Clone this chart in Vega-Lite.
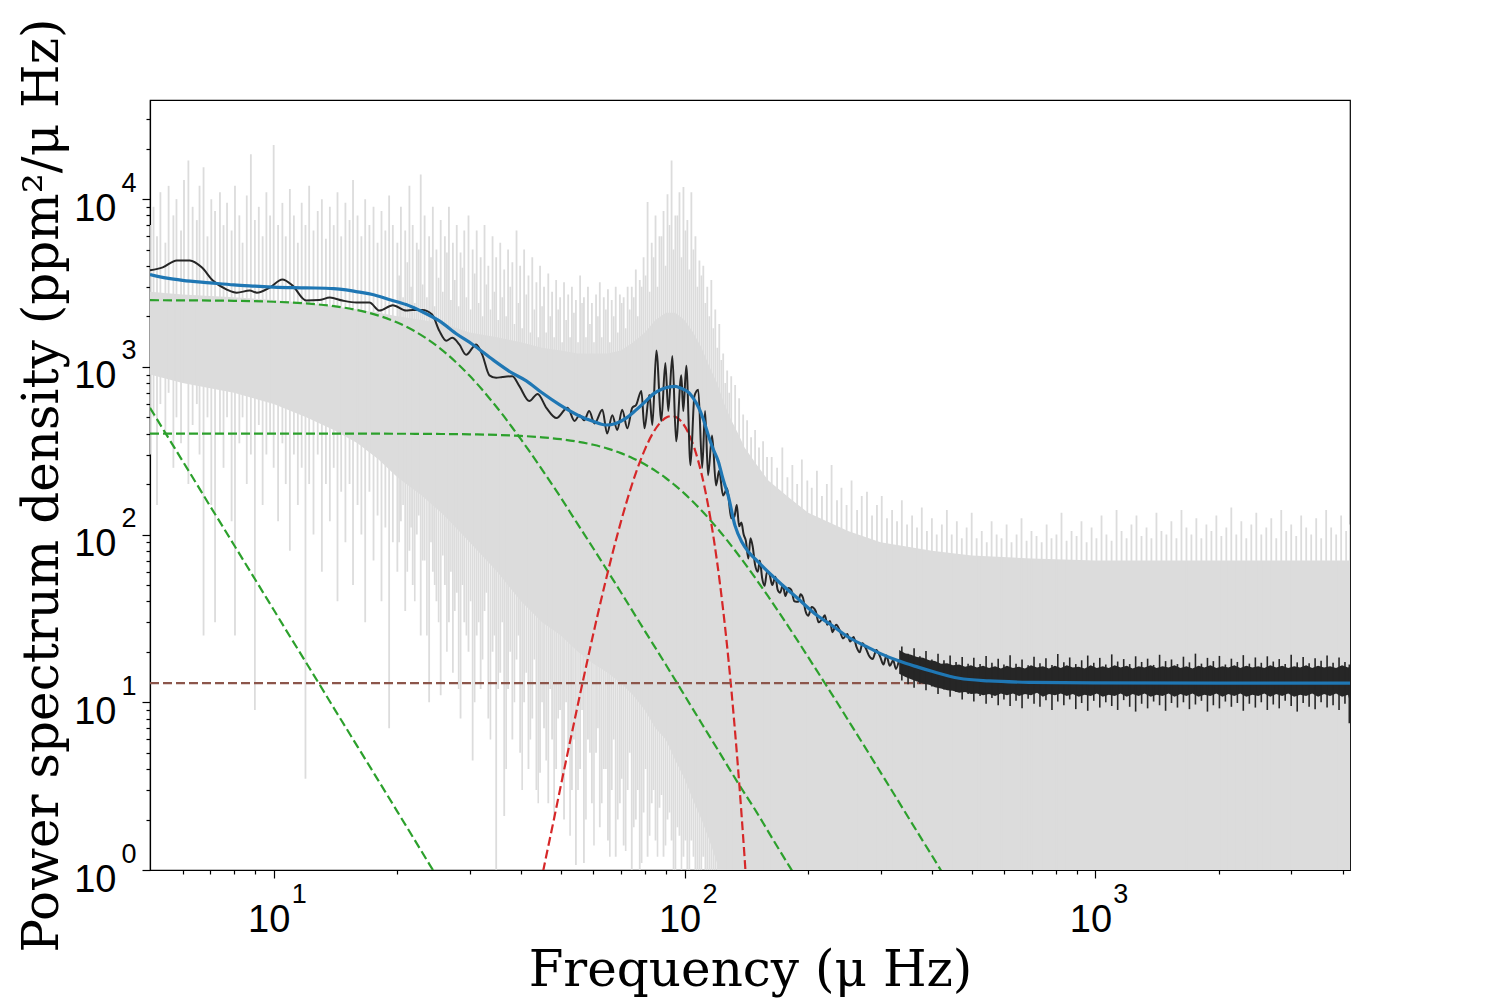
{
  "$schema": "https://vega.github.io/schema/vega-lite/v6.json",
  "width": 1200,
  "height": 770,
  "autosize": "none",
  "padding": {"left": 150, "top": 100, "right": 150, "bottom": 130},
  "background": "white",
  "config": {
    "view": {"stroke": "#000", "strokeWidth": 1.2},
    "axis": {
      "grid": false,
      "domainColor": "#000",
      "domainWidth": 1.2,
      "tickColor": "#000",
      "tickWidth": 1.2,
      "labelColor": "#000",
      "labelFont": "Liberation Sans",
      "labelFontSize": 38,
      "labelOverlap": false,
      "labelFlush": false,
      "titleFont": "DejaVu Serif",
      "titleFontSize": 50,
      "titleFontWeight": "normal",
      "titleColor": "#000",
      "titleBaseline": "alphabetic"
    }
  },
  "datasets": {
    "gray_body": [
      {"f": 5, "p": 2800, "p2": 900}, {"f": 6, "p": 2700, "p2": 800}, {"f": 8, "p": 2600, "p2": 700},
      {"f": 10, "p": 2500, "p2": 600}, {"f": 12, "p": 2400, "p2": 500}, {"f": 14, "p": 2300, "p2": 420},
      {"f": 16, "p": 2200, "p2": 350}, {"f": 18, "p": 2100, "p2": 280}, {"f": 20, "p": 2000, "p2": 220},
      {"f": 23, "p": 1900, "p2": 170}, {"f": 26, "p": 1800, "p2": 130}, {"f": 30, "p": 1600, "p2": 90},
      {"f": 35, "p": 1500, "p2": 60}, {"f": 40, "p": 1400, "p2": 40}, {"f": 45, "p": 1300, "p2": 30},
      {"f": 50, "p": 1250, "p2": 25}, {"f": 55, "p": 1200, "p2": 20}, {"f": 60, "p": 1200, "p2": 17},
      {"f": 65, "p": 1200, "p2": 15}, {"f": 70, "p": 1250, "p2": 13}, {"f": 75, "p": 1400, "p2": 11},
      {"f": 80, "p": 1600, "p2": 9}, {"f": 85, "p": 1900, "p2": 7}, {"f": 90, "p": 2100, "p2": 6},
      {"f": 95, "p": 2100, "p2": 4.5}, {"f": 100, "p": 1900, "p2": 3.5}, {"f": 105, "p": 1600, "p2": 2.6},
      {"f": 110, "p": 1300, "p2": 2}, {"f": 115, "p": 1000, "p2": 1.5}, {"f": 120, "p": 800, "p2": 1.1},
      {"f": 125, "p": 600, "p2": 0.5}, {"f": 130, "p": 480, "p2": 0.5}, {"f": 135, "p": 400, "p2": 0.5},
      {"f": 140, "p": 330, "p2": 0.5}, {"f": 150, "p": 260, "p2": 0.5}, {"f": 160, "p": 210, "p2": 0.5},
      {"f": 180, "p": 165, "p2": 0.5}, {"f": 200, "p": 135, "p2": 0.5}, {"f": 250, "p": 105, "p2": 0.5},
      {"f": 300, "p": 90, "p2": 0.5}, {"f": 400, "p": 80, "p2": 0.5}, {"f": 500, "p": 75, "p2": 0.5},
      {"f": 700, "p": 72, "p2": 0.5}, {"f": 1000, "p": 70, "p2": 0.5}, {"f": 4166, "p": 70, "p2": 0.5}
    ],
    "gray_spikes_low": [
      {"f": 5.0, "p": 7000, "p2": 300}, {"f": 5.1, "p": 9000, "p2": 500}, {"f": 5.2, "p": 6000, "p2": 150},
      {"f": 5.3, "p": 11000, "p2": 600}, {"f": 5.45, "p": 5500, "p2": 400}, {"f": 5.55, "p": 12000, "p2": 700},
      {"f": 5.7, "p": 8000, "p2": 250}, {"f": 5.8, "p": 10000, "p2": 500}, {"f": 5.95, "p": 6500, "p2": 350},
      {"f": 6.05, "p": 13000, "p2": 800}, {"f": 6.2, "p": 17000, "p2": 200}, {"f": 6.35, "p": 9000, "p2": 450},
      {"f": 6.5, "p": 7500, "p2": 600}, {"f": 6.6, "p": 12000, "p2": 300}, {"f": 6.75, "p": 15500, "p2": 25},
      {"f": 6.9, "p": 6000, "p2": 500}, {"f": 7.05, "p": 10000, "p2": 150}, {"f": 7.2, "p": 8500, "p2": 30},
      {"f": 7.4, "p": 11000, "p2": 400}, {"f": 7.55, "p": 7000, "p2": 250}, {"f": 7.7, "p": 9500, "p2": 500},
      {"f": 7.9, "p": 6500, "p2": 120}, {"f": 8.05, "p": 12000, "p2": 25}, {"f": 8.25, "p": 8000, "p2": 350},
      {"f": 8.4, "p": 5500, "p2": 500}, {"f": 8.6, "p": 10500, "p2": 200}, {"f": 8.8, "p": 18500, "p2": 300},
      {"f": 9.0, "p": 7500, "p2": 9}, {"f": 9.2, "p": 9000, "p2": 450}, {"f": 9.4, "p": 6000, "p2": 150},
      {"f": 9.6, "p": 11000, "p2": 300}, {"f": 9.8, "p": 8000, "p2": 400}, {"f": 10.0, "p": 21000, "p2": 250},
      {"f": 10.25, "p": 7000, "p2": 120}, {"f": 10.5, "p": 9500, "p2": 350}, {"f": 10.7, "p": 6000, "p2": 200},
      {"f": 10.95, "p": 11500, "p2": 80}, {"f": 11.2, "p": 8000, "p2": 300}, {"f": 11.45, "p": 5500, "p2": 150},
      {"f": 11.7, "p": 9500, "p2": 250}, {"f": 11.95, "p": 7000, "p2": 3.5}, {"f": 12.2, "p": 12000, "p2": 200},
      {"f": 12.5, "p": 6500, "p2": 100}, {"f": 12.8, "p": 8500, "p2": 300}, {"f": 13.1, "p": 10000, "p2": 60},
      {"f": 13.4, "p": 5800, "p2": 200}, {"f": 13.7, "p": 9000, "p2": 120}, {"f": 14.0, "p": 7000, "p2": 250},
      {"f": 14.3, "p": 11000, "p2": 40}, {"f": 14.6, "p": 6000, "p2": 180}, {"f": 14.95, "p": 9500, "p2": 90},
      {"f": 15.3, "p": 7500, "p2": 200}, {"f": 15.6, "p": 13000, "p2": 50}, {"f": 16.0, "p": 8000, "p2": 150},
      {"f": 16.35, "p": 6000, "p2": 100}, {"f": 16.7, "p": 10000, "p2": 30}, {"f": 17.1, "p": 7000, "p2": 180},
      {"f": 17.5, "p": 9000, "p2": 70}, {"f": 17.9, "p": 5500, "p2": 130}, {"f": 18.3, "p": 8500, "p2": 40},
      {"f": 18.7, "p": 6500, "p2": 110}, {"f": 19.1, "p": 10500, "p2": 7}, {"f": 19.5, "p": 7000, "p2": 90},
      {"f": 20.0, "p": 5500, "p2": 60}, {"f": 20.4, "p": 9000, "p2": 120}, {"f": 20.9, "p": 6500, "p2": 35},
      {"f": 21.4, "p": 12000, "p2": 80}, {"f": 21.8, "p": 7000, "p2": 50}, {"f": 22.3, "p": 5500, "p2": 100},
      {"f": 22.8, "p": 14000, "p2": 25}, {"f": 23.3, "p": 8000, "p2": 70}, {"f": 23.9, "p": 6000, "p2": 10},
      {"f": 24.4, "p": 9000, "p2": 60}, {"f": 24.9, "p": 5000, "p2": 40}, {"f": 25.5, "p": 7500, "p2": 11},
      {"f": 26.1, "p": 6000, "p2": 50}, {"f": 26.7, "p": 9000, "p2": 30}, {"f": 27.3, "p": 5500, "p2": 15},
      {"f": 27.9, "p": 7000, "p2": 45}, {"f": 28.5, "p": 4800, "p2": 8}, {"f": 29.1, "p": 6500, "p2": 30},
      {"f": 29.8, "p": 8000, "p2": 20}, {"f": 30.5, "p": 5000, "p2": 4.5}, {"f": 31.2, "p": 6500, "p2": 25},
      {"f": 31.9, "p": 4500, "p2": 12}, {"f": 32.6, "p": 7000, "p2": 35}, {"f": 33.3, "p": 4000, "p2": 8},
      {"f": 34.1, "p": 6000, "p2": 20}, {"f": 34.8, "p": 4500, "p2": 0.5}, {"f": 35.6, "p": 5500, "p2": 15},
      {"f": 36.4, "p": 3800, "p2": 2.1}, {"f": 37.2, "p": 5000, "p2": 12}, {"f": 38.1, "p": 4200, "p2": 6},
      {"f": 39.0, "p": 6500, "p2": 18}, {"f": 39.8, "p": 4000, "p2": 5}, {"f": 40.7, "p": 5000, "p2": 10},
      {"f": 41.7, "p": 3500, "p2": 4}, {"f": 42.6, "p": 4500, "p2": 8}, {"f": 43.6, "p": 3200, "p2": 3},
      {"f": 44.5, "p": 4000, "p2": 3.8}, {"f": 45.5, "p": 3000, "p2": 7}, {"f": 46.6, "p": 3600, "p2": 2.5},
      {"f": 47.6, "p": 2800, "p2": 6}, {"f": 48.7, "p": 3300, "p2": 4}, {"f": 49.8, "p": 2600, "p2": 9},
      {"f": 50.9, "p": 3200, "p2": 2}, {"f": 52.1, "p": 2700, "p2": 5}, {"f": 53.2, "p": 3000, "p2": 3},
      {"f": 54.4, "p": 2500, "p2": 1.07}, {"f": 55.7, "p": 3500, "p2": 4}, {"f": 56.9, "p": 2600, "p2": 1.1},
      {"f": 58.2, "p": 3000, "p2": 6}, {"f": 59.5, "p": 2400, "p2": 2.5}, {"f": 60.9, "p": 2700, "p2": 5},
      {"f": 62.2, "p": 3200, "p2": 1.8}, {"f": 63.6, "p": 2600, "p2": 4}, {"f": 65.1, "p": 2900, "p2": 1.5},
      {"f": 66.5, "p": 2500, "p2": 3}, {"f": 68.0, "p": 3000, "p2": 1.2}, {"f": 69.6, "p": 2700, "p2": 2.5},
      {"f": 71.1, "p": 2600, "p2": 1.4}, {"f": 72.7, "p": 3000, "p2": 3}, {"f": 74.4, "p": 3000, "p2": 1.0},
      {"f": 76.1, "p": 3800, "p2": 2}, {"f": 77.8, "p": 3300, "p2": 0.5}, {"f": 79.5, "p": 4500, "p2": 2.2},
      {"f": 81.3, "p": 9600, "p2": 1.2}, {"f": 83.2, "p": 5500, "p2": 2.5}, {"f": 85.0, "p": 8000, "p2": 1.5},
      {"f": 86.9, "p": 6000, "p2": 2.35}, {"f": 88.9, "p": 8500, "p2": 1.2}, {"f": 90.9, "p": 10700, "p2": 2},
      {"f": 93.0, "p": 17000, "p2": 1.5}, {"f": 95.0, "p": 8000, "p2": 0.8}, {"f": 97.2, "p": 11000, "p2": 1.6},
      {"f": 99.4, "p": 11800, "p2": 1.2}, {"f": 101.6, "p": 7500, "p2": 0.6}, {"f": 103.9, "p": 11000, "p2": 1.5},
      {"f": 106.3, "p": 6000, "p2": 1.0}, {"f": 108.7, "p": 4300, "p2": 0.5}, {"f": 111.1, "p": 4000, "p2": 1.2},
      {"f": 113.6, "p": 3000, "p2": 0.8}, {"f": 116.2, "p": 3300, "p2": 0.5}, {"f": 118.8, "p": 2200, "p2": 1.0},
      {"f": 121.5, "p": 1800, "p2": 0.5}, {"f": 124.2, "p": 1200, "p2": 0.5}, {"f": 127.0, "p": 950, "p2": 0.5},
      {"f": 129.9, "p": 880, "p2": 0.5}, {"f": 132.8, "p": 780, "p2": 0.5}, {"f": 135.8, "p": 650, "p2": 0.5},
      {"f": 138.9, "p": 520, "p2": 0.5}, {"f": 142.0, "p": 480, "p2": 0.5}, {"f": 145.2, "p": 380, "p2": 0.5},
      {"f": 148.5, "p": 420, "p2": 0.5}, {"f": 151.8, "p": 330, "p2": 0.5}, {"f": 155.3, "p": 360, "p2": 0.5},
      {"f": 158.8, "p": 290, "p2": 0.5}
    ],
    "gray_spikes_mid": [
      {"f": 20.2, "p": 3500, "p2": 90}, {"f": 20.65, "p": 2600, "p2": 150}, {"f": 21.15, "p": 4200, "p2": 60},
      {"f": 21.6, "p": 3000, "p2": 110}, {"f": 22.05, "p": 2400, "p2": 40}, {"f": 22.55, "p": 5000, "p2": 130},
      {"f": 23.05, "p": 3100, "p2": 70}, {"f": 23.6, "p": 2600, "p2": 25}, {"f": 24.15, "p": 4500, "p2": 90},
      {"f": 24.65, "p": 2300, "p2": 50}, {"f": 25.2, "p": 3400, "p2": 30}, {"f": 25.8, "p": 2800, "p2": 75},
      {"f": 26.4, "p": 4800, "p2": 20}, {"f": 27.0, "p": 2500, "p2": 60}, {"f": 27.6, "p": 3300, "p2": 35},
      {"f": 28.2, "p": 2300, "p2": 12}, {"f": 28.8, "p": 3900, "p2": 50}, {"f": 29.45, "p": 2600, "p2": 25},
      {"f": 30.15, "p": 2200, "p2": 40}, {"f": 30.85, "p": 3600, "p2": 10}, {"f": 31.55, "p": 2400, "p2": 30},
      {"f": 32.25, "p": 2000, "p2": 18}, {"f": 32.95, "p": 3100, "p2": 45}, {"f": 33.7, "p": 2200, "p2": 6},
      {"f": 34.45, "p": 2800, "p2": 25}, {"f": 35.2, "p": 1900, "p2": 12}, {"f": 36.0, "p": 2600, "p2": 30},
      {"f": 36.8, "p": 2000, "p2": 4}, {"f": 37.65, "p": 3000, "p2": 20}, {"f": 38.55, "p": 1800, "p2": 10},
      {"f": 39.4, "p": 2400, "p2": 25}, {"f": 40.25, "p": 1700, "p2": 3}, {"f": 41.2, "p": 2700, "p2": 15},
      {"f": 42.15, "p": 1600, "p2": 6}, {"f": 43.1, "p": 2200, "p2": 18}, {"f": 44.05, "p": 1500, "p2": 2.5},
      {"f": 45.0, "p": 2300, "p2": 10}, {"f": 46.05, "p": 1600, "p2": 4.5}, {"f": 47.1, "p": 2000, "p2": 12},
      {"f": 48.15, "p": 1500, "p2": 2}, {"f": 49.25, "p": 2200, "p2": 8}, {"f": 50.35, "p": 1400, "p2": 3.5},
      {"f": 51.5, "p": 1900, "p2": 10}, {"f": 52.65, "p": 1500, "p2": 1.6}, {"f": 53.8, "p": 2100, "p2": 6},
      {"f": 55.05, "p": 1400, "p2": 3}, {"f": 56.3, "p": 2400, "p2": 9}, {"f": 57.55, "p": 1500, "p2": 2},
      {"f": 58.85, "p": 1800, "p2": 5}, {"f": 60.2, "p": 1400, "p2": 1.4}, {"f": 61.55, "p": 2000, "p2": 7},
      {"f": 62.9, "p": 1500, "p2": 2.5}, {"f": 64.35, "p": 2200, "p2": 4}, {"f": 65.8, "p": 1400, "p2": 1.2},
      {"f": 67.25, "p": 2000, "p2": 6}, {"f": 68.8, "p": 1600, "p2": 2}, {"f": 70.35, "p": 2400, "p2": 3.5},
      {"f": 71.9, "p": 1700, "p2": 1.3}, {"f": 73.55, "p": 2200, "p2": 5}, {"f": 75.25, "p": 2600, "p2": 1.8},
      {"f": 76.95, "p": 2000, "p2": 3}, {"f": 78.65, "p": 3000, "p2": 1.1}, {"f": 80.4, "p": 3500, "p2": 4},
      {"f": 82.25, "p": 2800, "p2": 1.6}, {"f": 84.1, "p": 4500, "p2": 3}, {"f": 85.95, "p": 3000, "p2": 1.2},
      {"f": 87.9, "p": 6000, "p2": 2.8}, {"f": 89.9, "p": 4000, "p2": 1.4}, {"f": 91.95, "p": 7000, "p2": 2.2},
      {"f": 94.0, "p": 5000, "p2": 1.0}, {"f": 96.1, "p": 8000, "p2": 1.8}, {"f": 98.3, "p": 4500, "p2": 0.9},
      {"f": 100.5, "p": 6500, "p2": 1.5}, {"f": 102.75, "p": 3800, "p2": 0.7}, {"f": 105.1, "p": 5000, "p2": 1.2},
      {"f": 107.5, "p": 3000, "p2": 0.6}, {"f": 109.9, "p": 3500, "p2": 1.0}, {"f": 112.35, "p": 2400, "p2": 0.5},
      {"f": 114.9, "p": 2000, "p2": 0.8}, {"f": 117.5, "p": 1700, "p2": 0.5}, {"f": 120.15, "p": 1300, "p2": 0.7},
      {"f": 122.85, "p": 1100, "p2": 0.5}, {"f": 125.6, "p": 800, "p2": 0.5}, {"f": 128.45, "p": 700, "p2": 0.5}
    ],
    "gray_spikes_high": [
      {"f": 163, "p": 290}, {"f": 168, "p": 250}, {"f": 173, "p": 330}, {"f": 178, "p": 220}, {"f": 183, "p": 260},
      {"f": 188, "p": 200}, {"f": 193, "p": 280}, {"f": 199, "p": 210}, {"f": 204, "p": 190}, {"f": 210, "p": 240},
      {"f": 216, "p": 170}, {"f": 222, "p": 200}, {"f": 228, "p": 260}, {"f": 235, "p": 160}, {"f": 241, "p": 190},
      {"f": 248, "p": 150}, {"f": 255, "p": 210}, {"f": 263, "p": 140}, {"f": 270, "p": 170}, {"f": 278, "p": 180},
      {"f": 286, "p": 130}, {"f": 294, "p": 150}, {"f": 302, "p": 170}, {"f": 311, "p": 125}, {"f": 320, "p": 140},
      {"f": 329, "p": 120}, {"f": 338, "p": 160}, {"f": 348, "p": 115}, {"f": 358, "p": 130}, {"f": 368, "p": 110},
      {"f": 378, "p": 145}, {"f": 389, "p": 105}, {"f": 400, "p": 125}, {"f": 411, "p": 100}, {"f": 423, "p": 115},
      {"f": 435, "p": 140}, {"f": 447, "p": 100}, {"f": 460, "p": 120}, {"f": 473, "p": 95}, {"f": 486, "p": 110},
      {"f": 500, "p": 135}, {"f": 514, "p": 95}, {"f": 529, "p": 105}, {"f": 544, "p": 90}, {"f": 559, "p": 120},
      {"f": 575, "p": 100}, {"f": 591, "p": 95}, {"f": 608, "p": 115}, {"f": 625, "p": 90}, {"f": 643, "p": 100},
      {"f": 661, "p": 125}, {"f": 680, "p": 92}, {"f": 699, "p": 105}, {"f": 719, "p": 98}, {"f": 740, "p": 90},
      {"f": 761, "p": 115}, {"f": 782, "p": 95}, {"f": 804, "p": 100}, {"f": 827, "p": 135}, {"f": 851, "p": 92},
      {"f": 875, "p": 105}, {"f": 900, "p": 98}, {"f": 925, "p": 120}, {"f": 952, "p": 90}, {"f": 979, "p": 110},
      {"f": 1006, "p": 95}, {"f": 1035, "p": 130}, {"f": 1064, "p": 100}, {"f": 1095, "p": 92}, {"f": 1126, "p": 140},
      {"f": 1158, "p": 105}, {"f": 1191, "p": 95}, {"f": 1224, "p": 115}, {"f": 1259, "p": 130}, {"f": 1295, "p": 98},
      {"f": 1332, "p": 110}, {"f": 1369, "p": 95}, {"f": 1408, "p": 135}, {"f": 1448, "p": 105}, {"f": 1489, "p": 100},
      {"f": 1531, "p": 120}, {"f": 1575, "p": 95}, {"f": 1620, "p": 140}, {"f": 1666, "p": 110}, {"f": 1713, "p": 100},
      {"f": 1761, "p": 125}, {"f": 1811, "p": 95}, {"f": 1863, "p": 115}, {"f": 1916, "p": 105}, {"f": 1970, "p": 130},
      {"f": 2026, "p": 98}, {"f": 2083, "p": 110}, {"f": 2142, "p": 145}, {"f": 2203, "p": 100}, {"f": 2266, "p": 120},
      {"f": 2330, "p": 95}, {"f": 2396, "p": 115}, {"f": 2464, "p": 135}, {"f": 2534, "p": 100}, {"f": 2606, "p": 110},
      {"f": 2680, "p": 125}, {"f": 2756, "p": 95}, {"f": 2834, "p": 140}, {"f": 2914, "p": 105}, {"f": 2997, "p": 115},
      {"f": 3082, "p": 98}, {"f": 3169, "p": 130}, {"f": 3259, "p": 110}, {"f": 3352, "p": 100}, {"f": 3447, "p": 125},
      {"f": 3545, "p": 95}, {"f": 3645, "p": 140}, {"f": 3749, "p": 110}, {"f": 3855, "p": 100}, {"f": 3964, "p": 130},
      {"f": 4077, "p": 105}, {"f": 4166, "p": 115}
    ],
    "green": [
      {"c": "a", "f": 5, "p": 570}, {"c": "a", "f": 5.5, "p": 389}, {"c": "a", "f": 6, "p": 275},
      {"c": "a", "f": 6.5, "p": 199.6}, {"c": "a", "f": 7, "p": 148}, {"c": "a", "f": 7.5, "p": 112.6},
      {"c": "a", "f": 8, "p": 87}, {"c": "a", "f": 9, "p": 54.3}, {"c": "a", "f": 10, "p": 35.6},
      {"c": "a", "f": 11, "p": 24.3}, {"c": "a", "f": 12, "p": 17.2}, {"c": "a", "f": 13, "p": 12.5},
      {"c": "a", "f": 14, "p": 9.27}, {"c": "a", "f": 15, "p": 7.04}, {"c": "a", "f": 16, "p": 5.44},
      {"c": "a", "f": 18, "p": 3.4}, {"c": "a", "f": 20, "p": 2.23}, {"c": "a", "f": 22, "p": 1.52},
      {"c": "a", "f": 24, "p": 1.07}, {"c": "a", "f": 26, "p": 0.78}, {"c": "a", "f": 28, "p": 0.58},
      {"c": "b", "f": 5, "p": 2496}, {"c": "b", "f": 8, "p": 2477}, {"c": "b", "f": 10, "p": 2445},
      {"c": "b", "f": 12, "p": 2388}, {"c": "b", "f": 14, "p": 2300}, {"c": "b", "f": 16, "p": 2178},
      {"c": "b", "f": 18, "p": 2021}, {"c": "b", "f": 20, "p": 1837}, {"c": "b", "f": 22, "p": 1635},
      {"c": "b", "f": 25, "p": 1329}, {"c": "b", "f": 28, "p": 1047}, {"c": "b", "f": 30, "p": 884},
      {"c": "b", "f": 32, "p": 743}, {"c": "b", "f": 34, "p": 622}, {"c": "b", "f": 36, "p": 522},
      {"c": "b", "f": 38, "p": 438}, {"c": "b", "f": 40, "p": 369}, {"c": "b", "f": 42, "p": 312},
      {"c": "b", "f": 45, "p": 244}, {"c": "b", "f": 50, "p": 166}, {"c": "b", "f": 55, "p": 115},
      {"c": "b", "f": 60, "p": 82.6}, {"c": "b", "f": 65, "p": 60.5}, {"c": "b", "f": 70, "p": 45.3},
      {"c": "b", "f": 80, "p": 26.7}, {"c": "b", "f": 90, "p": 16.8}, {"c": "b", "f": 100, "p": 11.0},
      {"c": "b", "f": 110, "p": 7.5}, {"c": "b", "f": 120, "p": 5.3}, {"c": "b", "f": 135, "p": 3.3},
      {"c": "b", "f": 150, "p": 2.2}, {"c": "b", "f": 165, "p": 1.49}, {"c": "b", "f": 180, "p": 1.05},
      {"c": "b", "f": 190, "p": 0.85},
      {"c": "c", "f": 5, "p": 400}, {"c": "c", "f": 20, "p": 399.2}, {"c": "c", "f": 25, "p": 398},
      {"c": "c", "f": 30, "p": 396}, {"c": "c", "f": 35, "p": 392.5}, {"c": "c", "f": 40, "p": 387.3},
      {"c": "c", "f": 45, "p": 380}, {"c": "c", "f": 50, "p": 370.4}, {"c": "c", "f": 55, "p": 358},
      {"c": "c", "f": 60, "p": 343}, {"c": "c", "f": 65, "p": 325.6}, {"c": "c", "f": 70, "p": 306},
      {"c": "c", "f": 75, "p": 284.6}, {"c": "c", "f": 80, "p": 262.4}, {"c": "c", "f": 85, "p": 239.7},
      {"c": "c", "f": 90, "p": 217.4}, {"c": "c", "f": 95, "p": 195.8}, {"c": "c", "f": 100, "p": 175.4},
      {"c": "c", "f": 105, "p": 156.4}, {"c": "c", "f": 110, "p": 139.1}, {"c": "c", "f": 115, "p": 123.5},
      {"c": "c", "f": 120, "p": 109.4}, {"c": "c", "f": 127, "p": 92.3}, {"c": "c", "f": 135, "p": 76.1},
      {"c": "c", "f": 140, "p": 67.6}, {"c": "c", "f": 150, "p": 53.4}, {"c": "c", "f": 160, "p": 42.6},
      {"c": "c", "f": 170, "p": 34.2}, {"c": "c", "f": 180, "p": 27.7}, {"c": "c", "f": 190, "p": 22.6},
      {"c": "c", "f": 205, "p": 16.9}, {"c": "c", "f": 220, "p": 12.9}, {"c": "c", "f": 235, "p": 10},
      {"c": "c", "f": 250, "p": 7.84}, {"c": "c", "f": 270, "p": 5.8}, {"c": "c", "f": 300, "p": 3.82},
      {"c": "c", "f": 320, "p": 2.96}, {"c": "c", "f": 350, "p": 2.07}, {"c": "c", "f": 370, "p": 1.66},
      {"c": "c", "f": 400, "p": 1.22}, {"c": "c", "f": 440, "p": 0.83}
    ],
    "red": [
      {"f": 42, "p": 0.41}, {"f": 44, "p": 0.70}, {"f": 46, "p": 1.19}, {"f": 48, "p": 1.96}, {"f": 50, "p": 3.19},
      {"f": 53, "p": 6.3}, {"f": 56, "p": 11.9}, {"f": 60, "p": 25.7}, {"f": 64, "p": 50.7}, {"f": 68, "p": 91.6},
      {"f": 72, "p": 151.7}, {"f": 76, "p": 230.3}, {"f": 80, "p": 320}, {"f": 84, "p": 407.6}, {"f": 88, "p": 475},
      {"f": 91, "p": 503.4}, {"f": 93, "p": 509}, {"f": 95, "p": 503.4}, {"f": 98, "p": 475}, {"f": 102, "p": 407.6},
      {"f": 106, "p": 320}, {"f": 110, "p": 230.3}, {"f": 114, "p": 151.7}, {"f": 118, "p": 91.6}, {"f": 122, "p": 50.7},
      {"f": 126, "p": 25.7}, {"f": 130, "p": 11.9}, {"f": 133, "p": 6.3}, {"f": 136, "p": 3.19}, {"f": 138, "p": 1.96},
      {"f": 140, "p": 1.19}, {"f": 142, "p": 0.70}, {"f": 144, "p": 0.41}
    ],
    "noise": [{"f": 5, "p": 13}, {"f": 4166, "p": 13}],
    "black": [
      {"f": 5.0, "p": 3760}, {"f": 5.37, "p": 3920}, {"f": 5.81, "p": 4310}, {"f": 6.25, "p": 4310},
      {"f": 6.68, "p": 3920}, {"f": 7.11, "p": 3270}, {"f": 7.69, "p": 2890}, {"f": 8.13, "p": 2770},
      {"f": 8.74, "p": 2850}, {"f": 9.1, "p": 2770}, {"f": 9.78, "p": 2970}, {"f": 10.5, "p": 3320},
      {"f": 11.1, "p": 3060}, {"f": 12.0, "p": 2485}, {"f": 12.9, "p": 2500}, {"f": 13.7, "p": 2590},
      {"f": 14.7, "p": 2485}, {"f": 15.9, "p": 2420}, {"f": 17.1, "p": 2420}, {"f": 18.1, "p": 2165},
      {"f": 19.5, "p": 2330}, {"f": 21.0, "p": 2165}, {"f": 21.8, "p": 2180}, {"f": 23.0, "p": 2180},
      {"f": 24.3, "p": 2050}, {"f": 25.3, "p": 1640}, {"f": 26.3, "p": 1430}, {"f": 27.2, "p": 1490},
      {"f": 28.3, "p": 1360}, {"f": 29.4, "p": 1180}, {"f": 31.1, "p": 1360}, {"f": 32.2, "p": 1180},
      {"f": 33.5, "p": 890}, {"f": 34.8, "p": 860}, {"f": 36.0, "p": 870}, {"f": 38.1, "p": 880},
      {"f": 39.6, "p": 770}, {"f": 41.9, "p": 625}, {"f": 43.9, "p": 690}, {"f": 46.1, "p": 570},
      {"f": 48.8, "p": 495}, {"f": 51.9, "p": 570}, {"f": 54.0, "p": 475}, {"f": 55.5, "p": 515},
      {"f": 57.0, "p": 480}, {"f": 58.6, "p": 545}, {"f": 60.4, "p": 460}, {"f": 63.1, "p": 555},
      {"f": 64.8, "p": 400}, {"f": 66.7, "p": 515}, {"f": 68.6, "p": 420}, {"f": 70.5, "p": 555},
      {"f": 72.6, "p": 430}, {"f": 74.6, "p": 570}, {"f": 76.3, "p": 595}, {"f": 78.5, "p": 718},
      {"f": 79.9, "p": 430}, {"f": 82.1, "p": 680}, {"f": 83.5, "p": 450}, {"f": 85.4, "p": 1250},
      {"f": 87.8, "p": 475}, {"f": 89.8, "p": 1056}, {"f": 91.3, "p": 545}, {"f": 93.4, "p": 1160},
      {"f": 95.4, "p": 360}, {"f": 98.2, "p": 890}, {"f": 99.3, "p": 545}, {"f": 101, "p": 1015},
      {"f": 103.4, "p": 259}, {"f": 105.7, "p": 670}, {"f": 108, "p": 730}, {"f": 110.4, "p": 250},
      {"f": 112.2, "p": 545}, {"f": 114.1, "p": 226}, {"f": 116.7, "p": 390}, {"f": 119.3, "p": 196},
      {"f": 121.4, "p": 240}, {"f": 124.1, "p": 171}, {"f": 127, "p": 188}, {"f": 129.9, "p": 125},
      {"f": 132.2, "p": 128}, {"f": 134, "p": 150}, {"f": 135.8, "p": 112}, {"f": 137.5, "p": 118},
      {"f": 139.3, "p": 100}, {"f": 141, "p": 92}, {"f": 143, "p": 72}, {"f": 144.7, "p": 95},
      {"f": 146.5, "p": 85}, {"f": 148.5, "p": 66}, {"f": 150.8, "p": 60}, {"f": 152.5, "p": 70},
      {"f": 154.5, "p": 55}, {"f": 156.6, "p": 49.5}, {"f": 158.8, "p": 60}, {"f": 161, "p": 58},
      {"f": 163.5, "p": 50}, {"f": 166.4, "p": 56}, {"f": 168.5, "p": 47}, {"f": 170.9, "p": 45},
      {"f": 173.5, "p": 50}, {"f": 176, "p": 43}, {"f": 179, "p": 48}, {"f": 181.8, "p": 47},
      {"f": 185, "p": 40}, {"f": 189.1, "p": 39.7}, {"f": 191.5, "p": 44}, {"f": 194.2, "p": 42},
      {"f": 197, "p": 35}, {"f": 200, "p": 32.8}, {"f": 204, "p": 37}, {"f": 208.5, "p": 35},
      {"f": 212, "p": 30}, {"f": 216.3, "p": 31.3}, {"f": 219.5, "p": 33}, {"f": 222.6, "p": 29},
      {"f": 226, "p": 30.5}, {"f": 229, "p": 26.2}, {"f": 234, "p": 29}, {"f": 238.4, "p": 27},
      {"f": 243, "p": 24}, {"f": 249, "p": 25.5}, {"f": 253, "p": 23}, {"f": 257.9, "p": 24.5},
      {"f": 262, "p": 21.5}, {"f": 267, "p": 19.9}, {"f": 271, "p": 22.5}, {"f": 276.2, "p": 21},
      {"f": 281, "p": 19}, {"f": 287, "p": 18.1}, {"f": 293, "p": 20.5}, {"f": 299, "p": 18.8},
      {"f": 305, "p": 16.8}, {"f": 310, "p": 19}, {"f": 316, "p": 16.5}, {"f": 322, "p": 17.8},
      {"f": 327, "p": 15.8}, {"f": 333, "p": 18}
    ],
    "black_band": [
      {"f": 333, "p": 20.5, "p2": 14.8}, {"f": 344, "p": 19.6, "p2": 14.2}, {"f": 356, "p": 19.2, "p2": 13.7},
      {"f": 368, "p": 18.6, "p2": 13.3}, {"f": 381, "p": 18.4, "p2": 12.9}, {"f": 394, "p": 17.8, "p2": 12.7},
      {"f": 407, "p": 17.6, "p2": 12.3}, {"f": 421, "p": 17.0, "p2": 12.1}, {"f": 436, "p": 17.1, "p2": 11.8},
      {"f": 450, "p": 16.6, "p2": 11.7}, {"f": 466, "p": 16.8, "p2": 11.4}, {"f": 482, "p": 16.3, "p2": 11.5},
      {"f": 498, "p": 16.6, "p2": 11.2}, {"f": 515, "p": 16.1, "p2": 11.3}, {"f": 533, "p": 16.5, "p2": 11.0},
      {"f": 551, "p": 16.0, "p2": 11.2}, {"f": 570, "p": 16.4, "p2": 10.9}, {"f": 589, "p": 15.9, "p2": 11.3},
      {"f": 609, "p": 16.5, "p2": 11.0}, {"f": 630, "p": 16.0, "p2": 11.3}, {"f": 652, "p": 16.3, "p2": 10.9},
      {"f": 674, "p": 15.9, "p2": 11.2}, {"f": 697, "p": 16.6, "p2": 11.0}, {"f": 721, "p": 16.1, "p2": 11.4},
      {"f": 745, "p": 16.4, "p2": 10.8}, {"f": 771, "p": 15.9, "p2": 11.2}, {"f": 797, "p": 16.5, "p2": 11.0},
      {"f": 824, "p": 16.0, "p2": 11.3}, {"f": 852, "p": 16.6, "p2": 10.9}, {"f": 881, "p": 16.1, "p2": 11.2},
      {"f": 911, "p": 16.3, "p2": 10.8}, {"f": 942, "p": 15.9, "p2": 11.1}, {"f": 974, "p": 16.6, "p2": 10.9},
      {"f": 1008, "p": 16.0, "p2": 11.3}, {"f": 1042, "p": 16.4, "p2": 10.8}, {"f": 1078, "p": 16.0, "p2": 11.1},
      {"f": 1114, "p": 16.6, "p2": 10.9}, {"f": 1152, "p": 16.1, "p2": 11.3}, {"f": 1192, "p": 16.5, "p2": 10.8},
      {"f": 1232, "p": 15.9, "p2": 11.2}, {"f": 1274, "p": 16.4, "p2": 10.9}, {"f": 1318, "p": 16.1, "p2": 11.3},
      {"f": 1363, "p": 16.6, "p2": 10.8}, {"f": 1409, "p": 16.0, "p2": 11.1}, {"f": 1457, "p": 16.4, "p2": 10.9},
      {"f": 1507, "p": 16.1, "p2": 11.3}, {"f": 1558, "p": 16.6, "p2": 10.8}, {"f": 1611, "p": 16.0, "p2": 11.2},
      {"f": 1666, "p": 16.4, "p2": 10.9}, {"f": 1723, "p": 15.9, "p2": 11.3}, {"f": 1782, "p": 16.5, "p2": 10.8},
      {"f": 1843, "p": 16.1, "p2": 11.1}, {"f": 1905, "p": 16.6, "p2": 10.9}, {"f": 1970, "p": 16.0, "p2": 11.3},
      {"f": 2038, "p": 16.4, "p2": 10.8}, {"f": 2107, "p": 16.1, "p2": 11.2}, {"f": 2179, "p": 16.6, "p2": 10.9},
      {"f": 2253, "p": 16.0, "p2": 11.3}, {"f": 2330, "p": 16.5, "p2": 10.8}, {"f": 2410, "p": 16.1, "p2": 11.1},
      {"f": 2492, "p": 16.4, "p2": 10.9}, {"f": 2577, "p": 16.0, "p2": 11.3}, {"f": 2665, "p": 16.6, "p2": 10.8},
      {"f": 2755, "p": 16.1, "p2": 11.2}, {"f": 2849, "p": 16.5, "p2": 10.9}, {"f": 2946, "p": 16.0, "p2": 11.3},
      {"f": 3047, "p": 16.4, "p2": 10.8}, {"f": 3151, "p": 16.1, "p2": 11.1}, {"f": 3258, "p": 16.6, "p2": 10.9},
      {"f": 3369, "p": 16.0, "p2": 11.3}, {"f": 3484, "p": 16.5, "p2": 10.8}, {"f": 3603, "p": 16.1, "p2": 11.2},
      {"f": 3726, "p": 16.4, "p2": 10.9}, {"f": 3853, "p": 16.0, "p2": 11.3}, {"f": 3984, "p": 16.6, "p2": 10.8},
      {"f": 4120, "p": 16.1, "p2": 11.1}, {"f": 4166, "p": 16.3, "p2": 10.0}
    ],
    "black_spikes": [
      {"f": 338, "p": 21.5, "p2": 13.5}, {"f": 350, "p": 19.5, "p2": 12.8}, {"f": 362, "p": 21.0, "p2": 12.2},
      {"f": 374, "p": 18.8, "p2": 12.9}, {"f": 387, "p": 20.2, "p2": 11.8}, {"f": 400, "p": 18.0, "p2": 12.4},
      {"f": 414, "p": 19.5, "p2": 11.2}, {"f": 428, "p": 17.8, "p2": 11.9}, {"f": 443, "p": 19.0, "p2": 10.8},
      {"f": 458, "p": 17.4, "p2": 11.5}, {"f": 474, "p": 18.6, "p2": 10.4}, {"f": 490, "p": 17.0, "p2": 11.2},
      {"f": 506, "p": 18.4, "p2": 10.1}, {"f": 524, "p": 16.9, "p2": 10.9}, {"f": 542, "p": 18.9, "p2": 9.8},
      {"f": 560, "p": 17.2, "p2": 10.6}, {"f": 580, "p": 18.2, "p2": 9.6}, {"f": 599, "p": 16.8, "p2": 10.4},
      {"f": 620, "p": 19.1, "p2": 9.5}, {"f": 641, "p": 17.0, "p2": 10.2}, {"f": 663, "p": 18.0, "p2": 9.2},
      {"f": 686, "p": 16.6, "p2": 10.5}, {"f": 709, "p": 18.7, "p2": 9.8}, {"f": 733, "p": 17.1, "p2": 9.4},
      {"f": 758, "p": 18.3, "p2": 10.3}, {"f": 784, "p": 16.7, "p2": 9.0}, {"f": 810, "p": 19.4, "p2": 10.1},
      {"f": 838, "p": 17.3, "p2": 9.6}, {"f": 866, "p": 18.5, "p2": 10.4}, {"f": 896, "p": 16.9, "p2": 9.1},
      {"f": 926, "p": 17.8, "p2": 9.9}, {"f": 958, "p": 19.0, "p2": 8.9}, {"f": 991, "p": 17.2, "p2": 10.2},
      {"f": 1025, "p": 18.4, "p2": 9.3}, {"f": 1060, "p": 16.8, "p2": 10.0}, {"f": 1096, "p": 19.3, "p2": 9.5},
      {"f": 1133, "p": 17.5, "p2": 9.0}, {"f": 1172, "p": 18.1, "p2": 10.3}, {"f": 1212, "p": 16.9, "p2": 9.4},
      {"f": 1253, "p": 18.8, "p2": 8.8}, {"f": 1296, "p": 17.4, "p2": 9.8}, {"f": 1340, "p": 18.2, "p2": 9.2},
      {"f": 1386, "p": 16.7, "p2": 10.1}, {"f": 1433, "p": 19.2, "p2": 9.6}, {"f": 1482, "p": 17.6, "p2": 8.9},
      {"f": 1532, "p": 18.0, "p2": 9.9}, {"f": 1584, "p": 16.9, "p2": 9.3}, {"f": 1638, "p": 18.7, "p2": 10.0},
      {"f": 1694, "p": 17.3, "p2": 9.1}, {"f": 1752, "p": 19.5, "p2": 9.7}, {"f": 1812, "p": 17.0, "p2": 10.2},
      {"f": 1874, "p": 18.4, "p2": 8.8}, {"f": 1937, "p": 17.6, "p2": 9.6}, {"f": 2004, "p": 18.9, "p2": 9.2},
      {"f": 2072, "p": 16.8, "p2": 10.1}, {"f": 2143, "p": 18.2, "p2": 9.4}, {"f": 2216, "p": 17.4, "p2": 9.9},
      {"f": 2291, "p": 19.1, "p2": 8.9}, {"f": 2370, "p": 17.0, "p2": 9.8}, {"f": 2451, "p": 18.5, "p2": 9.3},
      {"f": 2534, "p": 17.2, "p2": 10.0}, {"f": 2621, "p": 18.8, "p2": 9.0}, {"f": 2710, "p": 17.5, "p2": 9.7},
      {"f": 2802, "p": 18.1, "p2": 9.2}, {"f": 2897, "p": 16.9, "p2": 10.2}, {"f": 2996, "p": 19.2, "p2": 9.5},
      {"f": 3099, "p": 17.3, "p2": 8.8}, {"f": 3204, "p": 18.6, "p2": 9.9}, {"f": 3313, "p": 17.1, "p2": 9.4},
      {"f": 3426, "p": 18.3, "p2": 9.1}, {"f": 3543, "p": 17.7, "p2": 10.0}, {"f": 3664, "p": 19.0, "p2": 9.3},
      {"f": 3789, "p": 17.2, "p2": 9.6}, {"f": 3918, "p": 18.5, "p2": 9.0}, {"f": 4050, "p": 17.4, "p2": 9.8},
      {"f": 4150, "p": 16.8, "p2": 7.5}
    ],
    "blue": [
      {"f": 5, "p": 3550}, {"f": 5.5, "p": 3380}, {"f": 6, "p": 3280}, {"f": 7, "p": 3170}, {"f": 8, "p": 3080},
      {"f": 9, "p": 3030}, {"f": 10, "p": 2990}, {"f": 12, "p": 2960}, {"f": 14, "p": 2930}, {"f": 15, "p": 2880},
      {"f": 16, "p": 2800}, {"f": 17.4, "p": 2700}, {"f": 19, "p": 2530}, {"f": 21, "p": 2350}, {"f": 23, "p": 2130},
      {"f": 25.3, "p": 1880}, {"f": 28, "p": 1560}, {"f": 30.5, "p": 1360}, {"f": 34.2, "p": 1100}, {"f": 38, "p": 920},
      {"f": 41.2, "p": 825}, {"f": 45, "p": 700}, {"f": 49.6, "p": 595}, {"f": 55, "p": 515}, {"f": 59.6, "p": 475},
      {"f": 64.3, "p": 450}, {"f": 68, "p": 460}, {"f": 72.1, "p": 495}, {"f": 76, "p": 550}, {"f": 80.5, "p": 625},
      {"f": 84, "p": 690}, {"f": 88, "p": 735}, {"f": 92, "p": 760}, {"f": 95, "p": 765}, {"f": 98, "p": 745},
      {"f": 102.6, "p": 700}, {"f": 105, "p": 650}, {"f": 108.3, "p": 570}, {"f": 111, "p": 490}, {"f": 114.3, "p": 390},
      {"f": 117, "p": 330}, {"f": 120.9, "p": 272}, {"f": 124, "p": 215}, {"f": 127.7, "p": 171}, {"f": 132.7, "p": 113},
      {"f": 138, "p": 90}, {"f": 143, "p": 79}, {"f": 150, "p": 70}, {"f": 156.6, "p": 62.8}, {"f": 170, "p": 52},
      {"f": 189, "p": 41.4}, {"f": 210, "p": 33}, {"f": 229, "p": 28.6}, {"f": 250, "p": 24.5}, {"f": 275, "p": 21.7},
      {"f": 300, "p": 19.5}, {"f": 333, "p": 17.6}, {"f": 370, "p": 16.2}, {"f": 400, "p": 15.3}, {"f": 466, "p": 13.9},
      {"f": 550, "p": 13.4}, {"f": 700, "p": 13.15}, {"f": 1000, "p": 13.05}, {"f": 2000, "p": 13}, {"f": 4166, "p": 13}
    ]
  },
  "layer": [
    {
      "encoding": {
        "x": {
          "field": "f",
          "type": "quantitative",
          "scale": {"type": "log", "domain": [5, 4166], "nice": false},
          "axis": {
            "title": "Frequency (μ Hz)",
            "values": [6, 7, 8, 9, 10, 20, 30, 40, 50, 60, 70, 80, 90, 100, 200, 300, 400, 500, 600, 700, 800, 900, 1000, 2000, 3000, 4000],
            "labelExpr": "indexof([10, 100, 1000], datum.value) >= 0 ? '10' : ''",
            "tickSize": {"condition": {"test": "indexof([10, 100, 1000], datum.value) >= 0", "value": 8}, "value": 4},
            "labelPadding": 23,
            "labelOffset": -5,
            "titleX": 600,
            "titleY": 115
          }
        },
        "y": {
          "field": "p",
          "type": "quantitative",
          "scale": {"type": "log", "domain": [1, 39000], "nice": false},
          "axis": {
            "title": "Power spectrum density (ppm²/μ Hz)",
            "values": [1, 2, 3, 4, 5, 6, 7, 8, 9, 10, 20, 30, 40, 50, 60, 70, 80, 90, 100, 200, 300, 400, 500, 600, 700, 800, 900, 1000, 2000, 3000, 4000, 5000, 6000, 7000, 8000, 9000, 10000, 20000, 30000],
            "labelExpr": "indexof([1, 10, 100, 1000, 10000], datum.value) >= 0 ? '10' : ''",
            "tickSize": {"condition": {"test": "indexof([1, 10, 100, 1000, 10000], datum.value) >= 0", "value": 8}, "value": 4},
            "labelPadding": 26,
            "labelOffset": 10,
            "titleX": -93,
            "titleY": 385
          }
        }
      },
      "layer": [
        {
          "data": {"name": "gray_body"},
          "mark": {"type": "area", "orient": "vertical", "color": "#dcdcdc", "clip": true},
          "encoding": {"y2": {"field": "p2"}}
        },
        {
          "data": {"name": "gray_spikes_low"},
          "mark": {"type": "rule", "color": "#dcdcdc", "strokeWidth": 1.8, "clip": true},
          "encoding": {"y2": {"field": "p2"}}
        },
        {
          "data": {"name": "gray_spikes_mid"},
          "mark": {"type": "rule", "color": "#dcdcdc", "strokeWidth": 1.6, "clip": true},
          "encoding": {"y2": {"field": "p2"}}
        },
        {
          "data": {"name": "gray_spikes_high"},
          "mark": {"type": "rule", "color": "#dcdcdc", "strokeWidth": 1.8, "clip": true},
          "encoding": {"y2": {"datum": 0.5}}
        },
        {
          "data": {"name": "green"},
          "mark": {"type": "line", "color": "#2ca02c", "strokeWidth": 2.2, "strokeDash": [9, 4], "interpolate": "monotone", "clip": true},
          "encoding": {"detail": {"field": "c", "type": "nominal"}}
        },
        {
          "data": {"name": "red"},
          "mark": {"type": "line", "color": "#d62728", "strokeWidth": 2.2, "strokeDash": [9, 4], "interpolate": "monotone", "clip": true},
          "encoding": {}
        },
        {
          "data": {"name": "noise"},
          "mark": {"type": "line", "color": "#8c564b", "strokeWidth": 2.2, "strokeDash": [9, 4], "clip": true},
          "encoding": {}
        },
        {
          "data": {"name": "black_band"},
          "mark": {"type": "area", "orient": "vertical", "color": "#262626", "clip": true},
          "encoding": {"y2": {"field": "p2"}}
        },
        {
          "data": {"name": "black_spikes"},
          "mark": {"type": "rule", "color": "#262626", "strokeWidth": 1.6, "clip": true},
          "encoding": {"y2": {"field": "p2"}}
        },
        {
          "data": {"name": "black"},
          "mark": {"type": "line", "color": "#262626", "strokeWidth": 2, "interpolate": "monotone", "clip": true},
          "encoding": {}
        },
        {
          "data": {"name": "blue"},
          "mark": {"type": "line", "color": "#1f77b4", "strokeWidth": 3.2, "interpolate": "monotone", "clip": true},
          "encoding": {}
        }
      ]
    },
    {
      "data": {"name": "noise"},
      "mark": {"type": "point", "opacity": 0},
      "encoding": {
        "x": {
          "field": "f",
          "type": "quantitative",
          "scale": {"type": "log", "domain": [5, 4166], "nice": false},
          "axis": {
            "orient": "bottom",
            "title": null,
            "values": [10, 100, 1000],
            "labelExpr": "datum.value == 10 ? '1' : datum.value == 100 ? '2' : '3'",
            "ticks": false,
            "tickSize": 0,
            "domain": false,
            "labelFontSize": 27,
            "labelPadding": 11,
            "labelOffset": 25
          }
        },
        "y": {
          "field": "p",
          "type": "quantitative",
          "scale": {"type": "log", "domain": [1, 39000], "nice": false},
          "axis": {
            "orient": "left",
            "title": null,
            "values": [1, 10, 100, 1000, 10000],
            "labelExpr": "datum.value == 1 ? '0' : datum.value == 10 ? '1' : datum.value == 100 ? '2' : datum.value == 1000 ? '3' : '4'",
            "ticks": false,
            "tickSize": 0,
            "domain": false,
            "labelFontSize": 27,
            "labelPadding": 14,
            "labelOffset": -16
          }
        }
      }
    }
  ],
  "resolve": {"scale": {"x": "independent", "y": "independent"}}
}
